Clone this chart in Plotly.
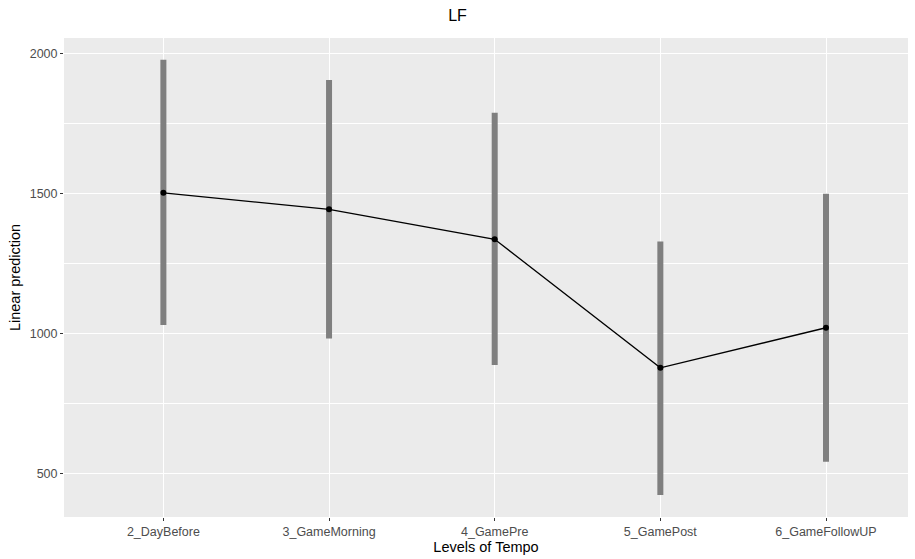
import plotly.graph_objects as go

categories = ["2_DayBefore", "3_GameMorning", "4_GamePre", "5_GamePost", "6_GameFollowUP"]
estimate = [1504, 1445, 1338, 879, 1022]
lower = [1032, 984, 889, 425, 543]
upper = [1979, 1907, 1790, 1330, 1501]

x_idx = list(range(len(categories)))
err_plus = [u - e for u, e in zip(upper, estimate)]
err_minus = [e - l for e, l in zip(estimate, lower)]

fig = go.Figure()
fig.add_trace(go.Scatter(
    x=x_idx, y=estimate, mode="markers",
    marker=dict(size=1, color="rgba(0,0,0,0)"),
    error_y=dict(type="data", symmetric=False, array=err_plus, arrayminus=err_minus,
                 color="rgb(127,127,127)", thickness=6, width=0),
    hoverinfo="skip", showlegend=False,
))
fig.add_trace(go.Scatter(
    x=x_idx, y=estimate, mode="lines+markers",
    line=dict(color="black", width=1.3),
    marker=dict(color="black", size=6),
    showlegend=False,
))

fig.update_layout(
    width=915, height=559,
    margin=dict(l=64, r=7, t=38, b=42),
    paper_bgcolor="white",
    plot_bgcolor="#EBEBEB",
    font=dict(family="Liberation Sans, Arial, sans-serif", color="black"),
    title=dict(text="LF", x=0.5, xanchor="center", y=0.973, yanchor="middle",
               font=dict(size=16, color="black")),
    xaxis=dict(
        tickmode="array", tickvals=x_idx, ticktext=categories,
        range=[-0.6, 4.495],
        showgrid=True, gridcolor="white", gridwidth=1.1,
        zeroline=False, showline=False,
        ticks="outside", ticklen=3, tickcolor="#333333", tickwidth=1,
        tickfont=dict(size=12.5, color="#4D4D4D"),
        title=dict(text="Levels of Tempo", font=dict(size=14.5, color="black"), standoff=3),
    ),
    yaxis=dict(
        range=[346, 2057],
        tickmode="array", tickvals=[500, 1000, 1500, 2000],
        showgrid=True, gridcolor="white", gridwidth=1.1,
        minor=dict(tickmode="array", tickvals=[750, 1250, 1750], showgrid=True,
                   gridcolor="white", gridwidth=0.5, ticks=""),
        zeroline=False, showline=False,
        ticks="outside", ticklen=3, tickcolor="#333333", tickwidth=1,
        tickfont=dict(size=12.5, color="#4D4D4D"),
        title=dict(text="Linear prediction", font=dict(size=14.5, color="black"), standoff=5),
    ),
)

fig.write_html("out.html")
